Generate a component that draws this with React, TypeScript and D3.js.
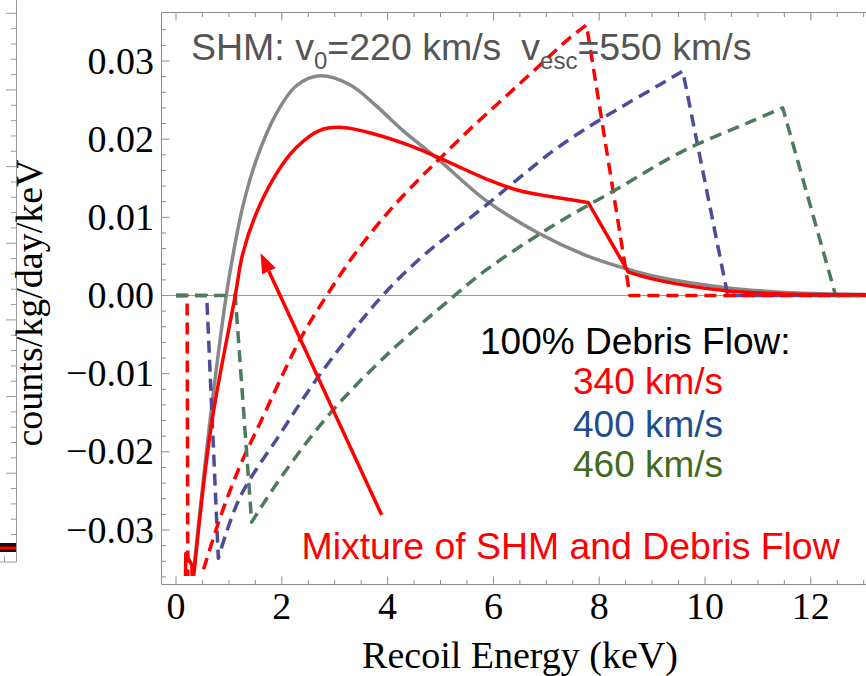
import React from 'react';
import * as d3 from 'd3';

// ---- axis ticks ----
const energyTicks = [0, 2, 4, 6, 8, 10, 12];
const energyMinor = [0.5, 1, 1.5, 2.5, 3, 3.5, 4.5, 5, 5.5, 6.5, 7, 7.5, 8.5, 9, 9.5, 10.5, 11, 11.5, 12.5, 13];
const rateTicks = [-0.03, -0.02, -0.01, 0, 0.01, 0.02, 0.03];
const rateTickLabels = ['\u22120.03', '\u22120.02', '\u22120.01', '0.00', '0.01', '0.02', '0.03'];
const rateMinor = [-0.036, -0.034, -0.032, -0.028, -0.026, -0.024, -0.022, -0.018, -0.016, -0.014, -0.012, -0.008, -0.006, -0.004, -0.002, 0.002, 0.004, 0.006, 0.008, 0.012, 0.014, 0.016, 0.018, 0.022, 0.024, 0.026, 0.028, 0.032, 0.034];

// ---- SHM (gray solid) ----
const shmE = [0.30, 0.33, 0.64, 0.95, 1.07, 1.26, 1.51, 1.89, 2.27, 2.71, 3.28, 3.78, 4.29, 4.91, 5.87, 6.82, 7.76, 8.52, 9.15, 10.4, 11.5, 12.5, 13.2];
const shmRate = [-0.0375, -0.0355, -0.0162, 0, 0.0049, 0.0113, 0.0172, 0.0232, 0.0268, 0.0281, 0.027, 0.0243, 0.0211, 0.0177, 0.0121, 0.0081, 0.0051, 0.0034, 0.0023, 0.001, 0.0004, 0.0002, 0.0001];

// ---- Mixture (red solid) ----
const mixLeadE = [0.17, 0.185, 0.30, 0.32];
const mixLeadRate = [-0.040, -0.0330, -0.0345, -0.040];
const mixRiseE = [0.33, 0.67, 1.12, 1.26, 1.51, 1.89, 2.27, 2.71, 3.15, 3.78, 4.41, 4.91, 5.24, 5.87, 6.5, 7.13, 7.79];
const mixRiseRate = [-0.0362, -0.0165, 0, 0.0053, 0.0104, 0.0155, 0.0189, 0.0211, 0.0215, 0.0206, 0.0192, 0.0178, 0.0168, 0.0149, 0.0134, 0.0126, 0.0119];
const mixDropE = [7.79, 8.55];
const mixDropRate = [0.0119, 0.0030];
const mixTailE = [8.55, 9.15, 10.4, 11.5, 13.2];
const mixTailRate = [0.0030, 0.0019, 0.0006, 0.0002, 0.0001];

// ---- Debris 340 km/s (red dashed) ----
const d340LeadE = [0, 0.21, 0.23, 0.47];
const d340LeadRate = [0, 0, -0.05, -0.05];
const d340RiseE = [0.486, 0.83, 1.21, 1.59, 2.34, 2.85, 3.4, 4.03, 4.61, 5.0, 5.56, 6.19, 6.82, 7.45, 7.76];
const d340RiseRate = [-0.0358, -0.0285, -0.0218, -0.0163, -0.0057, 0, 0.0055, 0.0108, 0.015, 0.0176, 0.0213, 0.0252, 0.0291, 0.033, 0.0346];
const d340TailE = [7.76, 8.58, 13.2];
const d340TailRate = [0.0346, 0, 0];

// ---- Debris 400 km/s (blue dashed) ----
const d400LeadE = [0, 0.58, 0.8];
const d400LeadRate = [0, 0, -0.0336];
const d400RiseE = [0.8, 1.21, 1.97, 2.68, 3.84, 4.61, 5.24, 5.87, 6.5, 7.13, 7.76, 8.39, 9.15, 9.58];
const d400RiseRate = [-0.0336, -0.0258, -0.0177, -0.0105, -0.0005, 0.0047, 0.0082, 0.0116, 0.0151, 0.0185, 0.0214, 0.024, 0.027, 0.0287];
const d400TailE = [9.58, 10.43, 13.2];
const d400TailRate = [0.0287, 0, 0];

// ---- Debris 460 km/s (green dashed) ----
const d460LeadE = [0, 1.12, 1.43];
const d460LeadRate = [0, 0, -0.029];
const d460RiseE = [1.43, 1.97, 2.91, 4.0, 5.18, 5.87, 7.07, 8.33, 9.59, 10.85, 11.47];
const d460RiseRate = [-0.029, -0.0234, -0.0151, -0.0075, -0.0005, 0.0033, 0.0087, 0.0136, 0.0185, 0.0222, 0.024];
const d460TailE = [11.47, 12.47, 13.2];
const d460TailRate = [0.024, 0, 0];

const legendLabels = ['340 km/s', '400 km/s', '460 km/s'];
const legendColors = ['#ff0000', '#1c4f8c', '#426b1c'];

const W = 866;
const H = 676;
const FRAME_L = 161.5;
const FRAME_T = 12.5;
const FRAME_B = 584.5;

const x = d3.scaleLinear().domain([0, 12]).range([176, 810.8]);
const y = d3.scaleLinear().domain([-0.03, 0.03]).range([530, 61]);

function seg(E: number[], V: number[], smooth: boolean): string {
  const pts: [number, number][] = E.map((e, i) => [x(e), y(V[i])]);
  const line = d3.line().curve(smooth ? d3.curveCatmullRom.alpha(0.5) : d3.curveLinear);
  return line(pts) || '';
}
function join(parts: string[]): string {
  return parts.map((p, i) => (i === 0 ? p : p.replace(/^M/, 'L'))).join('');
}

const SANS = '"Liberation Sans", Arial, sans-serif';
const SERIF = '"Liberation Serif", "Times New Roman", serif';

export default function App() {
  const grayPath = seg(shmE, shmRate, true);
  const mixPath = join([
    seg(mixLeadE, mixLeadRate, false),
    seg(mixRiseE, mixRiseRate, true),
    seg(mixDropE, mixDropRate, false),
    seg(mixTailE, mixTailRate, true),
  ]);
  const p340 = join([seg(d340LeadE, d340LeadRate, false), seg(d340RiseE, d340RiseRate, true), seg(d340TailE, d340TailRate, false)]);
  const p400 = join([seg(d400LeadE, d400LeadRate, false), seg(d400RiseE, d400RiseRate, true), seg(d400TailE, d400TailRate, false)]);
  const p460 = join([seg(d460LeadE, d460LeadRate, false), seg(d460RiseE, d460RiseRate, true), seg(d460TailE, d460TailRate, false)]);

  const frameColor = '#8c8c8c';

  // stray neighbour-figure frame at the far left
  const strayTicks: number[] = d3.range(0, 36).map((k) => 13.3 + 15.33 * k).filter((v) => v < 560);

  // arrow
  const ax0 = 381.7, ay0 = 515, ax1 = 260.5, ay1 = 253;
  const ang = Math.atan2(ay1 - ay0, ax1 - ax0);
  const hl = 20, hw = 7.5;
  const bx = ax1 - hl * Math.cos(ang), by = ay1 - hl * Math.sin(ang);
  const headPts = [
    [ax1, ay1],
    [bx + hw * Math.sin(ang), by - hw * Math.cos(ang)],
    [bx - hw * Math.sin(ang), by + hw * Math.cos(ang)],
  ];

  const dash = '12,7';

  return (
    <svg width={W} height={H} style={{ position: 'absolute', left: 0, top: 0, background: '#fff' }}>
      <defs>
        <clipPath id="plotClip">
          <rect x={FRAME_L + 0.5} y={FRAME_T + 1} width={W - FRAME_L} height={576 - FRAME_T - 1} />
        </clipPath>
      </defs>
      <rect x={0} y={0} width={W} height={H} fill="#fff" />

      {/* stray frame on the left edge */}
      <g stroke="#9a9a9a" strokeWidth={1}>
        <line x1={16.5} y1={0} x2={16.5} y2={562} />
        <line x1={0} y1={562} x2={16.5} y2={562} />
        <line x1={4.5} y1={556} x2={4.5} y2={562} />
        {strayTicks.map((t, k) => (
          <line key={k} x1={16.5} x2={k % 5 === 0 ? 6 : 11} y1={t} y2={t} />
        ))}
      </g>
      <rect x={0} y={543} width={16} height={9} fill="#111" />
      <line x1={0} x2={16} y1={548} y2={548} stroke="#ff0000" strokeWidth={3} />

      {/* frame */}
      <g stroke={frameColor} strokeWidth={1} fill="none">
        <line x1={FRAME_L} y1={FRAME_T} x2={FRAME_L} y2={FRAME_B} />
        <line x1={FRAME_L} y1={FRAME_B} x2={W} y2={FRAME_B} />
        <line x1={FRAME_L} y1={FRAME_T} x2={W} y2={FRAME_T} />
        {rateTicks.map((t) => (
          <line key={'ly' + t} x1={FRAME_L} x2={FRAME_L + 8} y1={y(t)} y2={y(t)} />
        ))}
        {rateMinor.map((t) => (
          <line key={'lym' + t} x1={FRAME_L} x2={FRAME_L + 4.5} y1={y(t)} y2={y(t)} />
        ))}
        {energyTicks.map((t) => (
          <g key={'bx' + t}>
            <line x1={x(t)} x2={x(t)} y1={FRAME_B} y2={FRAME_B - 8} />
            <line x1={x(t)} x2={x(t)} y1={FRAME_T} y2={FRAME_T + 8} />
          </g>
        ))}
        {energyMinor.map((t) => (
          <g key={'bxm' + t}>
            <line x1={x(t)} x2={x(t)} y1={FRAME_B} y2={FRAME_B - 4.5} />
            <line x1={x(t)} x2={x(t)} y1={FRAME_T} y2={FRAME_T + 4.5} />
          </g>
        ))}
      </g>

      {/* tick labels */}
      <g fontFamily={SERIF} fontSize={38} fill="#000">
        {rateTicks.map((t, i) => (
          <text key={'yl' + t} x={154} y={y(t) + 12.5} textAnchor="end">
            {rateTickLabels[i]}
          </text>
        ))}
        {energyTicks.map((t) => (
          <text key={'xl' + t} x={x(t)} y={619} textAnchor="middle">
            {t}
          </text>
        ))}
        <text x={520} y={668} textAnchor="middle">Recoil Energy (keV)</text>
        <text x={42} y={303} textAnchor="middle" transform="rotate(-90, 42, 303)">counts/kg/day/keV</text>
      </g>

      {/* zero line */}
      <line x1={FRAME_L} x2={W} y1={y(0)} y2={y(0)} stroke="#9a9a9a" strokeWidth={1} />

      {/* curves */}
      <g clipPath="url(#plotClip)" fill="none" strokeLinejoin="round">
        <path d={grayPath} stroke="#888888" strokeWidth={3.5} />
        <path d={p400} stroke="#4c4c98" strokeWidth={3.5} strokeDasharray={dash} />
        <path d={p340} stroke="#ff0000" strokeWidth={3.5} strokeDasharray={dash} />
        <path d={p460} stroke="#4d7a5c" strokeWidth={3.5} strokeDasharray={dash} />
        <path d={mixPath} stroke="#ff0000" strokeWidth={3.5} />
      </g>

      {/* SHM annotation */}
      <text x={191} y={60} fontFamily={SANS} fontSize={37.5} fill="#555555">
        <tspan>SHM: v</tspan>
        <tspan fontSize={24} dy={9}>0</tspan>
        <tspan dy={-9}>=220 km/s</tspan>
        <tspan dx={20}>v</tspan>
        <tspan fontSize={24} dy={9}>esc</tspan>
        <tspan dy={-9}>=550 km/s</tspan>
      </text>

      {/* legend */}
      <g fontFamily={SANS} fontSize={37}>
        <text x={480} y={354} fill="#000">100% Debris Flow:</text>
        {legendLabels.map((l, i) => (
          <text key={l} x={573} y={[394, 437, 477][i]} fill={legendColors[i]}>
            {l}
          </text>
        ))}
      </g>

      {/* arrow + mixture label */}
      <line x1={ax0} y1={ay0} x2={bx} y2={by} stroke="#ff0000" strokeWidth={3.5} />
      <polygon points={headPts.map((p) => p.join(',')).join(' ')} fill="#ff0000" />
      <text x={301.5} y={559} fontFamily={SANS} fontSize={37.4} fill="#ff0000">
        Mixture of SHM and Debris Flow
      </text>
    </svg>
  );
}
